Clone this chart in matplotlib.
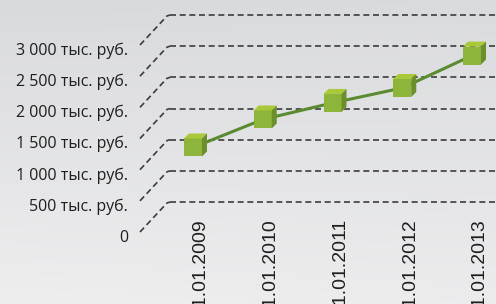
import numpy as np
import matplotlib.pyplot as plt
import matplotlib.transforms as mtransforms
from matplotlib.patches import Polygon

# data (тыс. руб.)
dates = ["01.01.2009", "01.01.2010", "01.01.2011", "01.01.2012", "01.01.2013"]
values = [1115, 1565, 1830, 2070, 2590]
y_ticks = [0, 500, 1000, 1500, 2000, 2500, 3000]
y_labels = ["0", "500 тыс. руб.", "1 000 тыс. руб.", "1 500 тыс. руб.",
            "2 000 тыс. руб.", "2 500 тыс. руб.", "3 000 тыс. руб."]

W, H = 496, 304
DEPTH = 30  # px between back wall and front of the 3d box

fig = plt.figure(figsize=(W / 100, H / 100), dpi=100)

# light grey gradient background
bg = fig.add_axes([0, 0, 1, 1], zorder=0)
yy, xx = np.mgrid[0:1:H * 1j, 0:1:W * 1j]
t = np.clip(0.85 * yy + 0.15 * (1 - xx) * yy + 0.05 * xx, 0, 1)[..., None]
top = np.array([0xd9, 0xda, 0xdd]) / 255
bot = np.array([0xee, 0xee, 0xef]) / 255
bg.imshow(top * (1 - t) + bot * t, extent=[0, 1, 0, 1], aspect="auto")
bg.axis("off")

# axes = back wall of the chart
ax = fig.add_axes([170 / W, 102 / H, 326 / W, 187 / H], zorder=1)
ax.set_xlim(-0.5448, 4.129)
ax.set_ylim(0, 3000)
ax.axis("off")

ylab_trans = mtransforms.blended_transform_factory(ax.transAxes, ax.transData)
grid_kw = dict(color="#3c3c3c", lw=1.2, dashes=(3.6, 2.2), clip_on=False)
for v, lab in zip(y_ticks, y_labels):
    ax.axhline(v, 0, 1.02, **grid_kw)
    # side wall diagonal to the front corner
    corner = mtransforms.ScaledTranslation(0, v, ylab_trans)
    ax.plot([-DEPTH, -3, 0], [-DEPTH, -1, 0],
            transform=mtransforms.Affine2D() + corner, **grid_kw)
    ax.text(0, v, lab, transform=ylab_trans + mtransforms.Affine2D().translate(-42, -40),
            ha="right", va="baseline", fontsize=11.5, family="Open Sans",
            color="#1e1e1e", clip_on=False)

xlab_trans = mtransforms.blended_transform_factory(ax.transData, ax.transAxes)
for i, d in enumerate(dates):
    ax.text(i, 0, d, transform=xlab_trans + mtransforms.Affine2D().translate(-7, -17),
            rotation=90, ha="center", va="top", fontsize=14,
            family="Liberation Sans", color="#1e1e1e", clip_on=False)

# series line at mid depth
mid = mtransforms.Affine2D().translate(-DEPTH / 2, -DEPTH / 2)
xs = np.arange(len(values))
ax.plot(xs, values, color="#5b8b30", lw=2.2, transform=ax.transData + mid,
        clip_on=False, zorder=3, solid_capstyle="round")

# cube markers
s, d = 9, 5
front = [(-s, -s), (s, -s), (s, s), (-s, s)]
topf = [(-s, s), (s, s), (s + d, s + d), (-s + d, s + d)]
side = [(s, -s), (s + d, -s + d), (s + d, s + d), (s, s)]
for x, v in zip(xs, values):
    tr = mid + mtransforms.ScaledTranslation(x, v, ax.transData)
    for verts, col in ((front, "#8db53b"), (topf, "#aac93a"), (side, "#6b8f2b")):
        ax.add_patch(Polygon(verts, closed=True, facecolor=col, edgecolor="none",
                             transform=tr, clip_on=False, zorder=4))

ax.set_xlim(-0.5448, 4.129)
ax.set_ylim(0, 3000)
fig.savefig("out.png", dpi=100)
